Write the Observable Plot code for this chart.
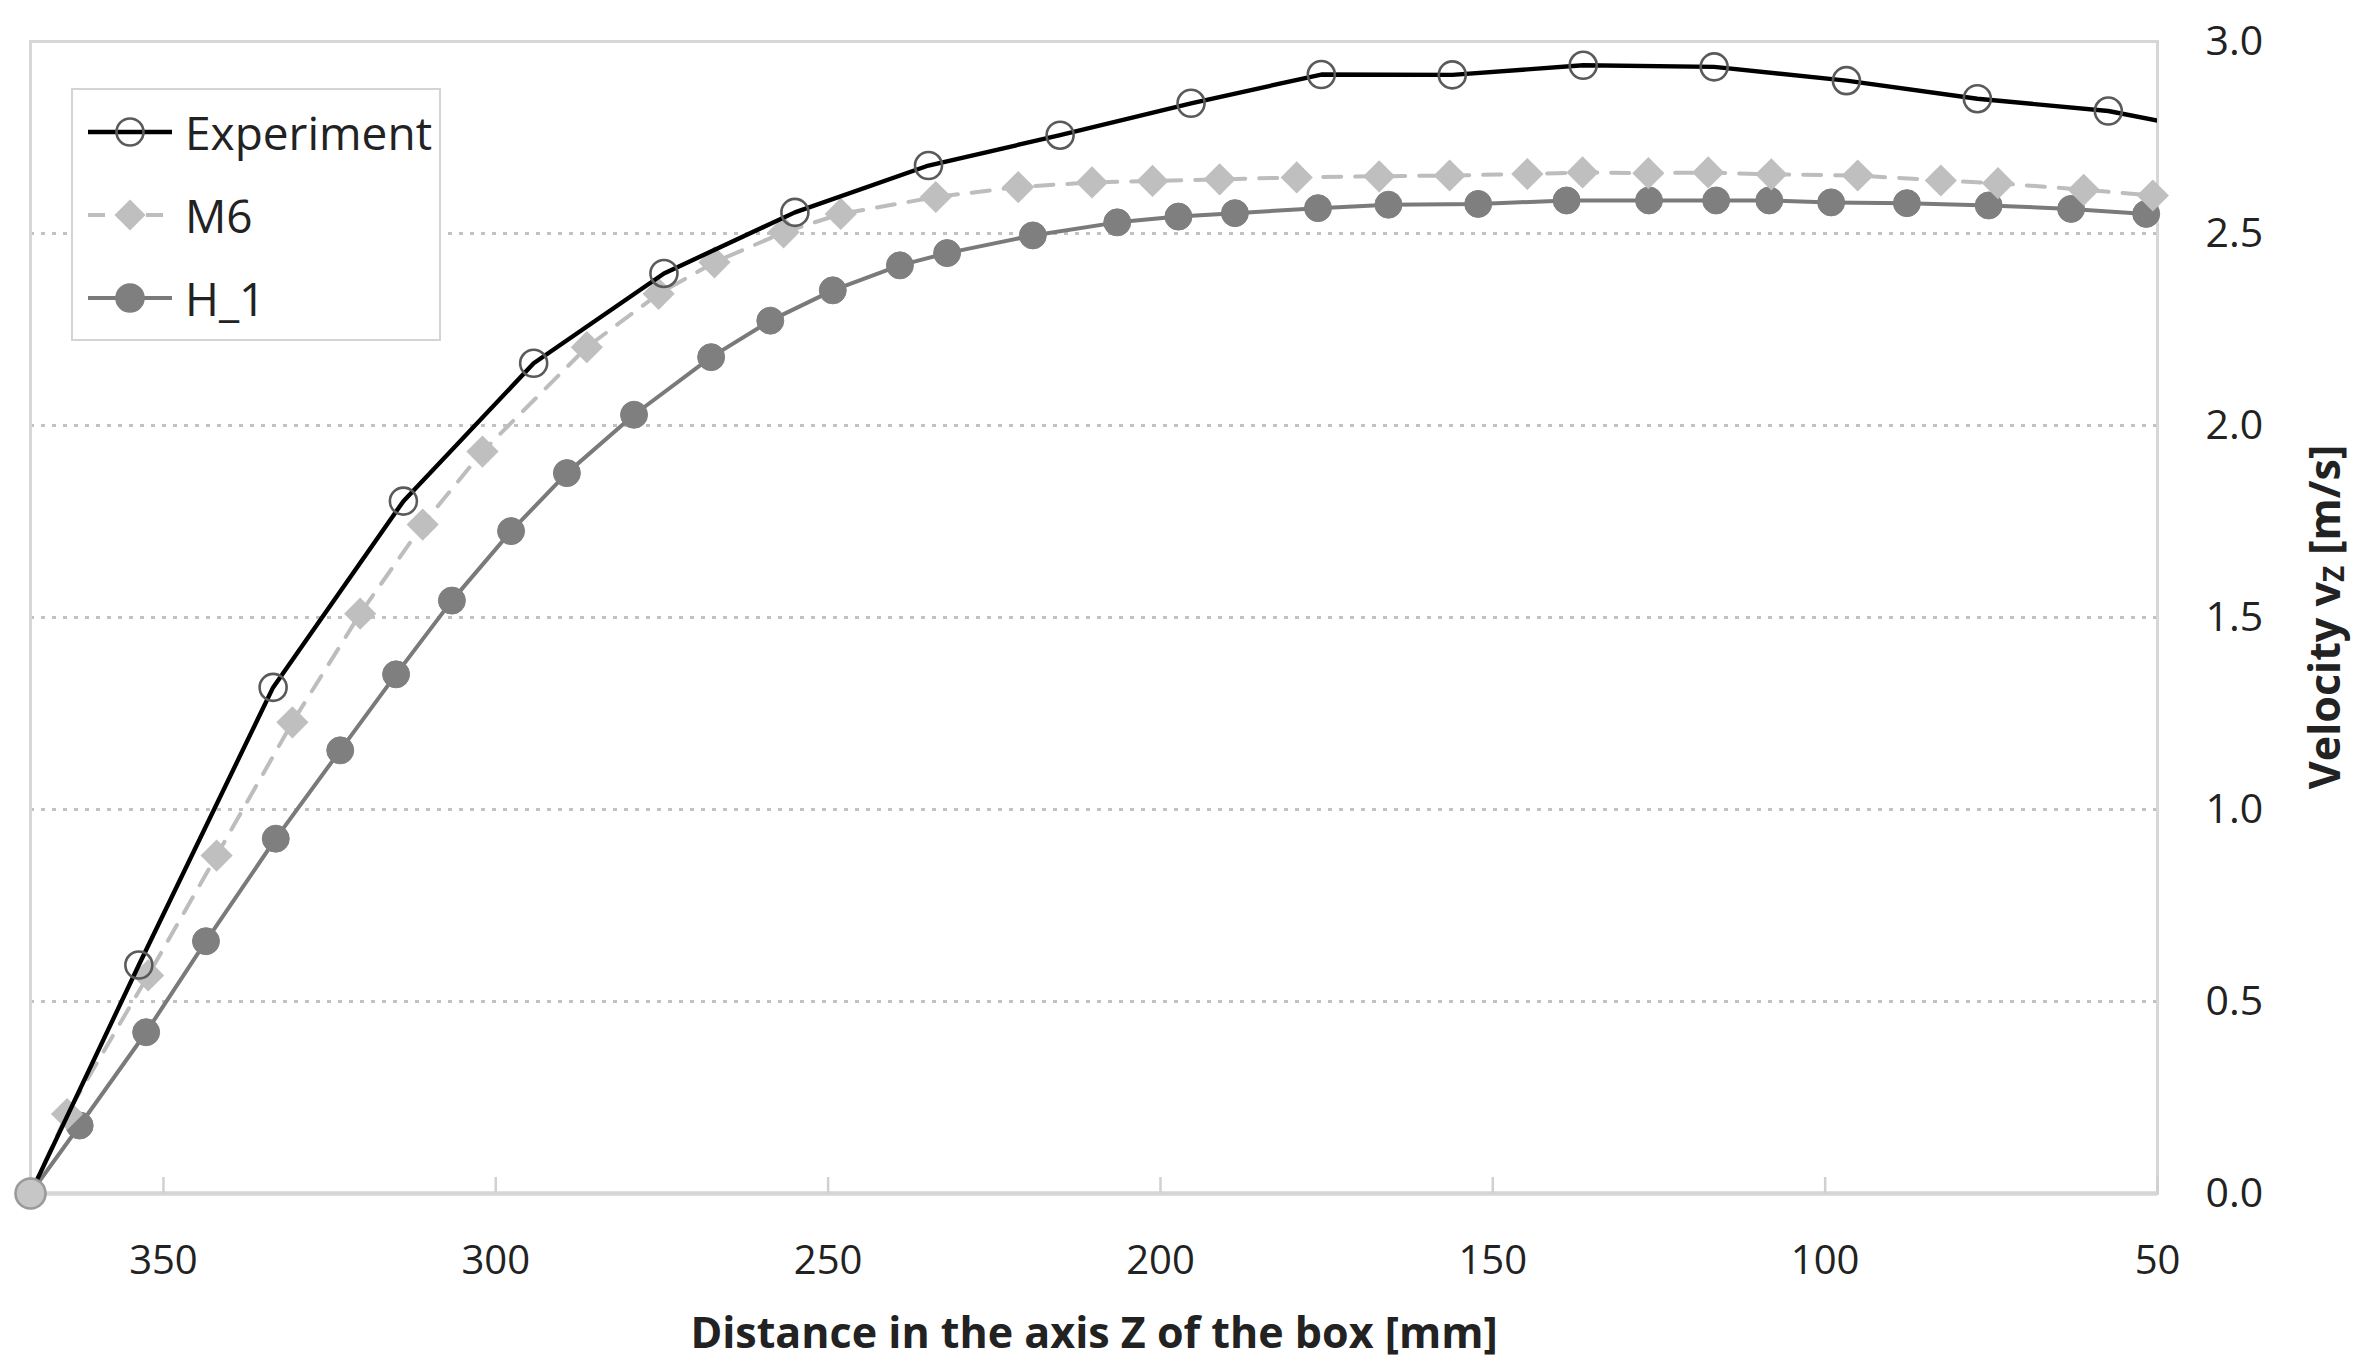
<!DOCTYPE html>
<html><head><meta charset="utf-8">
<script src="https://cdn.jsdelivr.net/npm/d3@7"></script>
<script src="https://cdn.jsdelivr.net/npm/@observablehq/plot@0.6"></script>
<style>
html,body{margin:0;padding:0;background:#fff;}
#wrap{position:relative;width:2358px;height:1367px;font-family:"Open Sans",sans-serif;}
#legend{position:absolute;left:71px;top:88px;width:370px;height:253px;box-sizing:border-box;border:2.5px solid #d4d4d4;background:#fff;}
#legend svg{position:absolute;left:-2.5px;top:-2.5px;}
</style></head><body><div id="wrap"><div id="legend"></div></div>
<script>
// ---- data ----
const distExp = [370, 353.7, 333.5, 313.9, 294.3, 274.7, 255.0, 234.9, 215.1, 195.4, 175.8, 156.1, 136.4, 116.7, 96.8, 77.1, 57.4, 37.7];
const velExp  = [0, 0.595, 1.318, 1.803, 2.162, 2.396, 2.555, 2.677, 2.756, 2.839, 2.914, 2.913, 2.938, 2.934, 2.898, 2.851, 2.819, 2.752];

const distM6 = [370, 364.5, 352.3, 342.0, 330.6, 320.4, 311.0, 302.0, 286.3, 275.5, 267.1, 256.7, 248.1, 233.8, 221.4, 210.3, 201.2, 191.1, 179.5, 167.1, 156.5, 144.8, 136.5, 126.6, 117.6, 108.1, 95.1, 82.6, 74.0, 61.1, 50.7];
const velM6  = [0, 0.207, 0.568, 0.880, 1.227, 1.510, 1.742, 1.932, 2.204, 2.343, 2.425, 2.503, 2.551, 2.595, 2.621, 2.633, 2.637, 2.641, 2.646, 2.649, 2.651, 2.655, 2.659, 2.657, 2.659, 2.654, 2.651, 2.638, 2.631, 2.614, 2.599];

const distH1 = [370, 362.6, 352.6, 343.6, 333.1, 323.4, 315.0, 306.6, 297.7, 289.3, 279.2, 267.6, 258.7, 249.3, 239.2, 232.1, 219.2, 206.5, 197.3, 188.8, 176.3, 165.7, 152.2, 138.9, 126.5, 116.4, 108.4, 99.1, 87.7, 75.4, 63.0, 51.7];
const velH1  = [0, 0.177, 0.420, 0.657, 0.924, 1.154, 1.352, 1.544, 1.725, 1.876, 2.028, 2.178, 2.273, 2.352, 2.417, 2.449, 2.495, 2.529, 2.544, 2.553, 2.566, 2.575, 2.577, 2.586, 2.586, 2.586, 2.586, 2.581, 2.579, 2.573, 2.564, 2.551];

const seriesNames = ["Experiment", "M6", "H_1"];
const xTicks = [350, 300, 250, 200, 150, 100, 50];
const yTicks = [0, 0.5, 1.0, 1.5, 2.0, 2.5, 3.0];
const yGridValues = [0.5, 1.0, 1.5, 2.0, 2.5];
const xTitle = "Distance in the axis Z of the box [mm]";
const yTitleMain = "Velocity v";
const yTitleSub = "Z";
const yTitleUnit = " [m/s]";

// ---- build tables ----
const rows = (xs, ys, name) => xs.map((d, i) => ({dist: d, vel: ys[i], series: name}));
const expRows = rows(distExp, velExp, seriesNames[0]);
const m6Rows = rows(distM6, velM6, seriesNames[1]);
const h1Rows = rows(distH1, velH1, seriesNames[2]);
const inDomain = d => d.dist >= 50 && d.dist <= 370;
const isOrigin = d => d.vel === 0;

const W = 2358, H = 1367, mL = 30, mR = 201, mT = 41, mB = 174;
const frameH = H - mT - mB;

const chart = Plot.plot({
  width: W, height: H,
  marginLeft: mL, marginRight: mR, marginTop: mT, marginBottom: mB,
  style: {fontFamily: "'Open Sans', sans-serif", fontSize: "40px", color: "#222", background: "#fff", overflow: "visible"},
  x: {domain: [370, 50]},
  y: {domain: [0, 3]},
  marks: [
    Plot.gridY(yGridValues, {stroke: "#c2c2c2", strokeOpacity: 1, strokeWidth: 3, strokeDasharray: "4,7"}),
    Plot.frame({stroke: "#d6d6d6", strokeWidth: 3}),
    Plot.ruleY([0], {stroke: "#d6d6d6", strokeWidth: 4.5}),
    Plot.tickX(xTicks, {x: d => d, insetTop: frameH - 16, stroke: "#d0d0d0", strokeWidth: 2.5}),
    Plot.axisX(xTicks, {tickSize: 0, tickPadding: 52, tickFormat: d => String(d), label: null, fontSize: 40, fill: "#222"}),
    Plot.axisY(yTicks, {anchor: "right", tickSize: 0, tickPadding: 48, tickFormat: d3.format(".1f"), label: null, fontSize: 41, fill: "#222"}),
    Plot.text([xTitle], {text: d => d, frameAnchor: "bottom", dy: 141, lineAnchor: "middle", fontWeight: "bold", fontSize: 43, fill: "#222"}),
    // H_1
    Plot.line(h1Rows, {x: "dist", y: "vel", stroke: "#7a7a7a", strokeWidth: 4, clip: true}),
    Plot.dot(h1Rows, {x: "dist", y: "vel", r: 13.5, fill: "#7f7f7f", stroke: "#7f7f7f", strokeWidth: 1}),
    // M6
    Plot.line(m6Rows, {x: "dist", y: "vel", stroke: "#bdbdbd", strokeWidth: 4, strokeDasharray: "18,14", clip: true}),
    Plot.dot(m6Rows, {x: "dist", y: "vel", symbol: "diamond2", r: 14.5, fill: "#bfbfbf", stroke: "none"}),
    // Experiment
    Plot.line(expRows, {x: "dist", y: "vel", stroke: "#000", strokeWidth: 4.4, clip: true}),
    Plot.dot(expRows, {x: "dist", y: "vel", filter: d => inDomain(d) && !isOrigin(d), r: 13.5, fill: "none", stroke: "#5a5a5a", strokeWidth: 2.6}),
    Plot.dot(expRows, {x: "dist", y: "vel", filter: isOrigin, r: 15, fill: "#c6c6c6", stroke: "#9a9a9a", strokeWidth: 2.6})
  ]
});

document.getElementById("wrap").prepend(chart);

// y axis title with subscript
const svg = d3.select(chart);
const yt = svg.append("text")
  .attr("transform", `translate(${W - mR + 166},${mT + frameH / 2}) rotate(-90)`)
  .attr("text-anchor", "middle")
  .attr("dominant-baseline", "central")
  .attr("font-family", "'Open Sans', sans-serif")
  .attr("font-weight", "bold")
  .attr("font-size", 43)
  .attr("fill", "#222");
yt.append("tspan").text(yTitleMain);
yt.append("tspan").text(yTitleSub).attr("font-size", 28).attr("dy", 10);
yt.append("tspan").text(yTitleUnit).attr("dy", -10);

// legend (HTML box overlaid inside the plot area)
const lg = d3.select("#legend").append("svg").attr("width", 370).attr("height", 253);
const rowY = [44, 127, 210];
const sampleX1 = 17, sampleX2 = 101, markX = 59, textX = 114;
const legendStyles = [
  {stroke: "#000", width: 4.4, dash: null, symbol: d3.symbolCircle, size: Math.PI * 13.5 * 13.5, fill: "none", mstroke: "#5a5a5a"},
  {stroke: "#bdbdbd", width: 4, dash: "17,12", symbol: d3.symbolDiamond2, size: Math.PI * 14 * 14, fill: "#bfbfbf", mstroke: "none"},
  {stroke: "#7a7a7a", width: 4, dash: null, symbol: d3.symbolCircle, size: Math.PI * 13.5 * 13.5, fill: "#7f7f7f", mstroke: "#7f7f7f"}
];
seriesNames.forEach((name, i) => {
  const s = legendStyles[i];
  const g = lg.append("g").attr("transform", `translate(0,${rowY[i]})`);
  g.append("line").attr("x1", sampleX1).attr("x2", sampleX2)
    .attr("stroke", s.stroke).attr("stroke-width", s.width).attr("stroke-dasharray", s.dash);
  g.append("path").attr("transform", `translate(${markX},0)`)
    .attr("d", d3.symbol(s.symbol, s.size)())
    .attr("fill", s.fill).attr("stroke", s.mstroke).attr("stroke-width", 2.6);
  g.append("text").attr("x", textX).attr("dominant-baseline", "central")
    .attr("font-family", "'Open Sans', sans-serif").attr("font-size", 46).attr("fill", "#222").text(name);
});
</script>
</body></html>
